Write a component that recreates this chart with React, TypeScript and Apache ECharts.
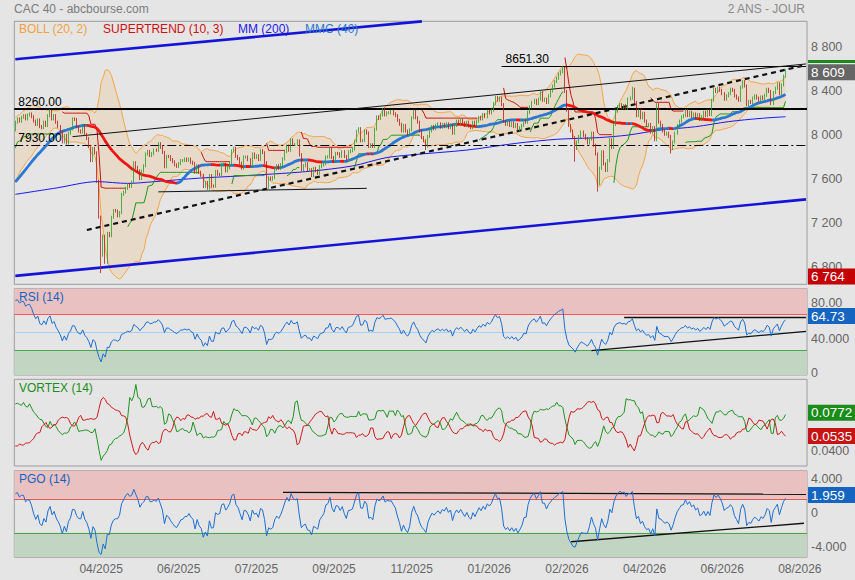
import React, { useEffect, useRef } from "react";
import * as echarts from "echarts";

// ---------- DATA ----------
// closes before the first visible session (only used to warm up the indicators)
const PRE_CLOSES = [
  7250, 7280, 7300, 7270, 7290, 7260, 7240, 7260, 7230, 7250,
  7270, 7290, 7320, 7300, 7330, 7320, 7290, 7350, 7380, 7400,
  7480, 7560, 7620, 7680, 7740, 7760, 7820, 7850, 7880, 7860,
  7900, 7930, 7910, 7960, 7990, 7970, 8010, 8040, 8020, 8070,
];

// daily closes, one per session slot
const CLOSES = [
  8140, 8170, 8150, 8185, 8200, 8170, 8205, 8215, 8190, 8150,
  8120, 8160, 8100, 8090, 8140, 8110, 8200, 8240, 8170, 8200,
  8140, 8100, 8050, 7960, 8020, 7950, 8040, 8080, 8170, 8165,
  8100, 8060, 8050, 8110, 8030, 7990, 7920, 7790, 7900, 7860,
  7600, 7275, 6927, 7100, 6863, 7126, 7105, 7273, 7335, 7330,
  7286, 7316, 7482, 7502, 7536, 7573, 7555, 7593, 7770, 7728,
  7696, 7626, 7694, 7743, 7850, 7873, 7836, 7853, 7886, 7884,
  7944, 7911, 7864, 7734, 7828, 7826, 7800, 7779, 7751, 7737,
  7763, 7790, 7790, 7804, 7792, 7804, 7775, 7765, 7684, 7742,
  7683, 7656, 7553, 7590, 7538, 7653, 7558, 7557, 7692, 7665,
  7662, 7750, 7756, 7696, 7723, 7766, 7878, 7902, 7829, 7808,
  7766, 7722, 7822, 7822, 7798, 7744, 7851, 7818, 7834, 7800,
  7880, 7862, 7772, 7546, 7632, 7621, 7635, 7711, 7743, 7719,
  7753, 7805, 7871, 7923, 7884, 7979, 7937, 7938, 7969, 7843,
  7709, 7743, 7762, 7703, 7707, 7654, 7719, 7698, 7674, 7735,
  7749, 7761, 7823, 7825, 7897, 7818, 7786, 7855, 7853, 7829,
  7871, 7827, 7795, 7870, 7880, 7896, 7966, 8056, 8081, 7971,
  7974, 8060, 8041, 7918, 7934, 7919, 8077, 8188, 8174, 8206,
  8258, 8207, 8225, 8225, 8239, 8217, 8200, 8157, 8121, 8060,
  8110, 8060, 8030, 8070, 8180, 8240, 8180, 8140, 8060, 8000,
  7970, 7920, 8010, 8060, 8100, 8080, 8110, 8125, 8095, 8120,
  8100, 8125, 8090, 8115, 8040, 8110, 8150, 8130, 8160, 8135,
  8110, 8140, 8105, 8090, 8140, 8110, 8150, 8185, 8170, 8210,
  8190, 8240, 8225, 8250, 8310, 8365, 8340, 8360, 8300, 8150,
  8120, 8140, 8110, 8135, 8100, 8120, 8070, 8090, 8110, 8150,
  8140, 8230, 8280, 8320, 8340, 8310, 8350, 8410, 8340, 8350,
  8320, 8380, 8425, 8470, 8510, 8540, 8580, 8600, 8630, 8420,
  8250, 8110, 8060, 8000, 7900, 7960, 8010, 8050, 8020, 7990,
  7950, 7985, 8040, 7930, 7850, 7580, 7720, 7870, 7760, 7700,
  7790, 7980, 7910, 8120, 8240, 8280, 8300, 8270, 8290, 8265,
  8350, 8360, 8440, 8320, 8200, 8250, 8180, 8220, 8150, 8110,
  8120, 8050, 8090, 7980, 8300, 8140, 8110, 8060, 8030, 8040,
  8010, 7900, 7960, 8040, 8110, 8150, 8190, 8200, 8245, 8200,
  8230, 8190, 8215, 8180, 8210, 8165, 8190, 8230, 8200, 8240,
  8210, 8340, 8440, 8420, 8450, 8430, 8400, 8350, 8380, 8400,
  8440, 8430, 8380, 8360, 8340, 8460, 8510, 8470, 8300, 8330,
  8320, 8360, 8380, 8360, 8340, 8370, 8355, 8385, 8440, 8420,
  8310, 8410, 8450, 8490, 8400, 8480, 8560, 8609,
];

// visible extreme wicks [slot, price]
const HIGH_WICKS: [number, number][] = [[17, 8257], [180, 8272], [268, 8651.3], [302, 8462]];
const LOW_WICKS: [number, number][] = [[42, 6764], [44, 6850], [201, 7886], [274, 7780], [285, 7507], [321, 7856]];
const WICK = 14;

// MM (200) [slot, value]
const MM200_POINTS: [number, number][] = [
  [0, 7482], [20, 7540], [40, 7598], [55, 7582], [68, 7598], [90, 7630], [110, 7650],
  [142, 7689], [165, 7741], [181, 7815], [193, 7841], [221, 7886], [245, 7947],
  [265, 7984], [286, 8000], [300, 8023], [316, 8069], [333, 8099], [349, 8145],
  [365, 8175], [377, 8190],
];

const SLOT_COUNT = 388;
const X_LABEL_SLOTS = [42, 80, 118, 156, 194, 232, 270, 308, 346, 384];
const X_LABELS = ["04/2025", "06/2025", "07/2025", "09/2025", "11/2025", "01/2026", "02/2026", "04/2026", "06/2026", "08/2026"];
// axis tick labels: [value where the text sits, text]
const PRICE_TICKS: [number, string][] = [[6823, "6 800"], [7223, "7 200"], [7623, "7 600"], [8023, "8 000"], [8423, "8 400"], [8823, "8 800"]];
const RSI_TICKS: [number, string][] = [[83, "80.00"], [42.6, "40.000"], [4.8, "0"]];
const VORTEX_TICKS: [number, string][] = [[0.0394, "0.0400"]];
const PGO_TICKS: [number, string][] = [[4.3, "4.000"], [0.3, "0"], [-3.7, "-4.000"]];
const RESISTANCE = 8260;
const SUPPORT = 7930;
const TOP_LEVEL = 8651.3;
const TOP_LEVEL_START = 238;

// price trend lines [slotA, valueA, slotB, valueB, kind]
const PRICE_TRENDS: [number, number, number, number, string][] = [
  [0, 8714, 199, 9059, "channel"],
  [0, 6739, 387, 7436, "channel"],
  [28, 8008, 387, 8671, "thin"],
  [35, 7157, 387, 8661, "dashed"],
  [70, 7505, 172, 7537, "thin"],
];
const RSI_TRENDS: [number, number, number, number][] = [[298, 66.7, 387, 66.7], [282, 29.6, 387, 51.1]];
const PGO_TRENDS: [number, number, number, number][] = [[131, 2.76, 387, 2.53], [272, -3.05, 386, -0.88]];

const RSI_BADGE = 64.73;
const VIP_BADGE = 0.0772;
const VIM_BADGE = 0.0535;
const PGO_BADGE = 1.959;

// ---------- INDICATORS ----------
const ALL = PRE_CLOSES.concat(CLOSES);
const OFF = PRE_CLOSES.length;
const N = CLOSES.length;
const hiMap = new Map(HIGH_WICKS);
const loMap = new Map(LOW_WICKS);
const OPEN_ALL = ALL.map((c, k) => (k === 0 ? c : ALL[k - 1]));
const HIGH_ALL = ALL.map((c, k) => {
  const b = Math.max(OPEN_ALL[k], c) + WICK;
  const o = hiMap.get(k - OFF);
  return o !== undefined ? Math.max(b, o) : b;
});
const LOW_ALL = ALL.map((c, k) => {
  const b = Math.min(OPEN_ALL[k], c) - WICK;
  const o = loMap.get(k - OFF);
  return o !== undefined ? Math.min(b, o) : b;
});
const TR_ALL = ALL.map((c, k) =>
  k === 0
    ? HIGH_ALL[k] - LOW_ALL[k]
    : Math.max(HIGH_ALL[k] - LOW_ALL[k], Math.abs(HIGH_ALL[k] - ALL[k - 1]), Math.abs(LOW_ALL[k] - ALL[k - 1]))
);

function sma(a: number[], p: number, k: number) {
  let s = 0;
  for (let j = k - p + 1; j <= k; j++) s += a[j];
  return s / p;
}

const BB_UP: number[] = [];
const BB_LO: number[] = [];
const MMC: number[] = [];
for (let s = 0; s < N; s++) {
  const k = s + OFF;
  const m = sma(ALL, 20, k);
  let v = 0;
  for (let j = k - 19; j <= k; j++) v += (ALL[j] - m) * (ALL[j] - m);
  const sd = Math.sqrt(v / 20);
  BB_UP.push(m + 2 * sd);
  BB_LO.push(m - 2 * sd);
  MMC.push(sma(ALL, 40, k));
}

// RSI 14 (Wilder)
const RSI: number[] = [];
{
  const p = 14;
  let ag = 0, al = 0;
  for (let k = 1; k <= p; k++) {
    const d = ALL[k] - ALL[k - 1];
    ag += Math.max(d, 0);
    al += Math.max(-d, 0);
  }
  ag /= p; al /= p;
  for (let k = p + 1; k < ALL.length; k++) {
    const d = ALL[k] - ALL[k - 1];
    ag = (ag * (p - 1) + Math.max(d, 0)) / p;
    al = (al * (p - 1) + Math.max(-d, 0)) / p;
    if (k >= OFF) RSI.push(100 - 100 / (1 + ag / (al || 1e-9)));
  }
}

// SuperTrend (10, 3)
const ST_UP: (number | null)[] = [];
const ST_DN: (number | null)[] = [];
{
  const p = 10, mult = 3;
  let atr = 0;
  for (let k = 1; k <= p; k++) atr += TR_ALL[k];
  atr /= p;
  let fu = 0, fl = 0, trend = 1;
  for (let k = p; k < ALL.length; k++) {
    if (k > p) atr = (atr * (p - 1) + TR_ALL[k]) / p;
    const hl2 = (HIGH_ALL[k] + LOW_ALL[k]) / 2;
    const bu = hl2 + mult * atr;
    const bl = hl2 - mult * atr;
    if (k === p) { fu = bu; fl = bl; }
    else {
      const nfu = bu < fu || ALL[k - 1] > fu ? bu : fu;
      const nfl = bl > fl || ALL[k - 1] < fl ? bl : fl;
      fu = nfu; fl = nfl;
      if (trend === 1 && ALL[k] < fl) trend = -1;
      else if (trend === -1 && ALL[k] > fu) trend = 1;
    }
    if (k >= OFF) {
      ST_UP.push(trend === 1 ? fl : null);
      ST_DN.push(trend === -1 ? fu : null);
    }
  }
}

// Vortex 14 (shown divided by the period, as on the source)
const VIP: number[] = [];
const VIM: number[] = [];
{
  const p = 14;
  for (let s = 0; s < N; s++) {
    const k = s + OFF;
    let vp = 0, vm = 0, tr = 0;
    for (let j = k - p + 1; j <= k; j++) {
      vp += Math.abs(HIGH_ALL[j] - LOW_ALL[j - 1]);
      vm += Math.abs(LOW_ALL[j] - HIGH_ALL[j - 1]);
      tr += TR_ALL[j];
    }
    VIP.push(vp / tr / p);
    VIM.push(vm / tr / p);
  }
}

// PGO 14
const PGO: number[] = [];
{
  const p = 14;
  let ema = 0;
  for (let k = 1; k <= p; k++) ema += TR_ALL[k];
  ema /= p;
  for (let k = p + 1; k < ALL.length; k++) {
    ema += (TR_ALL[k] - ema) * (2 / (p + 1));
    if (k >= OFF) PGO.push((ALL[k] - sma(ALL, p, k)) / ema);
  }
}

// ---------- CHART ----------
const FONT = "'Liberation Sans', Arial, sans-serif";
const SLOTS = Array.from({ length: SLOT_COUNT }, (_, i) => String(i));
const thousands = (v: number) => String(Math.round(v)).replace(/\B(?=(\d{3})+(?!\d))/g, " ");
const BLUE_MMC = "#2a78d2";
const RED_MMC = "#ee1515";

const GRIDS = [
  { left: 14.3, top: 21.3, width: 792.7, height: 263 },
  { left: 14.3, top: 288.5, width: 792.7, height: 86.5 },
  { left: 14.3, top: 379.3, width: 792.7, height: 86.7 },
  { left: 14.3, top: 470.7, width: 792.7, height: 86.6 },
];

function badge(value: number, text: string, bg: string, dy: number) {
  return {
    yAxis: value,
    lineStyle: { color: "rgba(0,0,0,0)", width: 0.01 },
    label: {
      show: true,
      position: "end",
      formatter: text,
      backgroundColor: bg,
      color: "#ffffff",
      fontSize: 13.5,
      fontFamily: FONT,
      lineHeight: 14,
      padding: [1, 3, 1, 3],
      width: 42,
      align: "left",
      distance: 1,
      offset: [0, dy],
    },
  };
}

function seg(a: number, va: number, b: number, vb: number, style: any) {
  return [
    { coord: [SLOTS[a], va], lineStyle: style },
    { coord: [SLOTS[b], vb] },
  ];
}

function buildOption() {
  const OPEN = OPEN_ALL.slice(OFF);
  const HIGH = HIGH_ALL.slice(OFF);
  const LOW = LOW_ALL.slice(OFF);
  const candles = CLOSES.map((c, s) => [OPEN[s], c, LOW[s], HIGH[s]]);
  const minLow = Math.min(...LOW);
  const lastClose = CLOSES[N - 1];

  const mm200: (number | null)[] = new Array(SLOT_COUNT).fill(null);
  MM200_POINTS.forEach(([s, v]) => (mm200[s] = v));

  // MMC colour pieces: blue when rising, red when falling
  const pieces: any[] = [];
  let runStart = 1;
  let runUp = MMC[1] >= MMC[0];
  for (let s = 2; s < N; s++) {
    const up = MMC[s] >= MMC[s - 1];
    if (up !== runUp) {
      pieces.push({ gt: pieces.length === 0 ? -1 : runStart - 1, lte: s - 1, color: runUp ? BLUE_MMC : RED_MMC });
      runStart = s;
      runUp = up;
    }
  }
  pieces.push({ gt: pieces.length === 0 ? -1 : runStart - 1, lte: SLOT_COUNT, color: runUp ? BLUE_MMC : RED_MMC });

  const trendStyle = (kind: string) =>
    kind === "channel"
      ? { color: "#1414d8", width: 2.6, type: "solid" }
      : kind === "dashed"
      ? { color: "#111111", width: 2.2, type: [5, 4] }
      : { color: "#111111", width: 1, type: "solid" };

  const xAxes = GRIDS.map((_, g) => ({
    type: "category",
    gridIndex: g,
    data: SLOTS,
    boundaryGap: true,
    axisLine: { show: false },
    axisTick: { show: false },
    splitLine: { show: false },
    axisLabel:
      g === 3
        ? {
            show: true,
            interval: (idx: number) => X_LABEL_SLOTS.includes(idx),
            formatter: (_v: string, idx: number) => X_LABELS[X_LABEL_SLOTS.indexOf(idx)] ?? "",
            color: "#666666",
            fontSize: 12,
            fontFamily: FONT,
            margin: 6,
          }
        : { show: false },
  }));

  const yBase = {
    type: "value",
    position: "right",
    axisLine: { show: false },
    axisTick: { show: false },
    splitLine: { show: false },
  };
  const lbl = (ticks: [number, string][]) => ({
    customValues: ticks.map((t) => t[0]),
    formatter: (v: number) => {
      const t = ticks.find((x) => Math.abs(x[0] - v) < 1e-6);
      return t ? t[1] : "";
    },
    color: "#666666",
    fontSize: 12.5,
    fontFamily: FONT,
    margin: 4,
  });

  const yAxes = [
    { ...yBase, gridIndex: 0, min: 6662, max: 9060, axisLabel: lbl(PRICE_TICKS) },
    { ...yBase, gridIndex: 1, min: 2.6, max: 98.7, axisLabel: lbl(RSI_TICKS) },
    { ...yBase, gridIndex: 2, min: 0.0207, max: 0.127, axisLabel: lbl(VORTEX_TICKS) },
    { ...yBase, gridIndex: 3, min: -4.88, max: 5.3, axisLabel: lbl(PGO_TICKS) },
  ];

  const bollDiff = BB_UP.map((u, s) => u - BB_LO[s]);

  const series: any[] = [
    { type: "line", name: "bbBase", data: BB_LO, stack: "boll", symbol: "none", lineStyle: { opacity: 0 }, silent: true, z: 1 },
    { type: "line", name: "bbFill", data: bollDiff, stack: "boll", symbol: "none", lineStyle: { opacity: 0 }, areaStyle: { color: "rgba(240,196,140,0.45)" }, silent: true, z: 1 },
    { type: "line", name: "bbUp", data: BB_UP, symbol: "none", lineStyle: { color: "#f5a447", width: 1 }, z: 2 },
    { type: "line", name: "bbLo", data: BB_LO, symbol: "none", lineStyle: { color: "#f5a447", width: 1 }, z: 2 },
    { type: "line", name: "mm200", data: mm200, connectNulls: true, smooth: 0.3, symbol: "none", lineStyle: { color: "#1818ee", width: 1 }, z: 3 },
    { type: "line", name: "stUp", data: ST_UP, symbol: "none", lineStyle: { color: "#17991a", width: 1 }, z: 3 },
    { type: "line", name: "stDn", data: ST_DN, symbol: "none", lineStyle: { color: "#c81212", width: 1 }, z: 3 },
    { type: "line", name: "mmc", data: MMC, symbol: "none", lineStyle: { width: 2.8 }, z: 4 },
    {
      type: "candlestick",
      name: "price",
      data: candles,
      barWidth: 1.3,
      clip: false,
      z: 5,
      itemStyle: { color: "#2fd22f", color0: "#e8231d", borderColor: "#259f25", borderColor0: "#b81a16", borderWidth: 0.8 },
      markLine: {
        symbol: "none",
        silent: true,
        label: { show: false },
        data: [
          {
            yAxis: RESISTANCE,
            lineStyle: { color: "#000000", width: 2, type: "solid" },
            label: { show: true, position: "insideStartTop", formatter: RESISTANCE.toFixed(2), color: "#000", fontSize: 12, fontFamily: FONT, distance: [4, 1] },
          },
          {
            yAxis: SUPPORT,
            lineStyle: { color: "#000000", width: 1.2, type: [9, 3, 2, 3] },
            label: { show: true, position: "insideStartTop", formatter: SUPPORT.toFixed(2), color: "#000", fontSize: 12, fontFamily: FONT, distance: [4, 1] },
          },
          [
            {
              coord: [SLOTS[TOP_LEVEL_START], TOP_LEVEL],
              lineStyle: { color: "#000000", width: 1, type: "solid" },
              label: { show: true, position: "insideStartTop", formatter: TOP_LEVEL.toFixed(2), color: "#000", fontSize: 12, fontFamily: FONT, distance: [4, 1] },
            },
            { coord: [SLOTS[SLOT_COUNT - 1], TOP_LEVEL] },
          ],
          ...PRICE_TRENDS.map(([a, va, b, vb, kind]) => seg(a, va, b, vb, trendStyle(kind))),
          badge(lastClose, thousands(lastClose), "#666666", 1.5),
          badge(minLow, thousands(minLow), "#c40000", 3.5),
        ],
      },
    },
    {
      type: "line",
      name: "rsi",
      xAxisIndex: 1,
      yAxisIndex: 1,
      data: RSI,
      symbol: "none",
      clip: false,
      lineStyle: { color: "#1d6fd0", width: 1 },
      z: 5,
      markArea: {
        silent: true,
        data: [
          [{ yAxis: 70, itemStyle: { color: "#e9c1c1" } }, { yAxis: 98.7 }],
          [{ yAxis: 2.6, itemStyle: { color: "#c2d5c2" } }, { yAxis: 30 }],
        ],
      },
      markLine: {
        symbol: "none",
        silent: true,
        label: { show: false },
        data: [
          { yAxis: 70, lineStyle: { color: "#ff5555", width: 1, type: "solid" } },
          { yAxis: 50, lineStyle: { color: "#a6d0f6", width: 1, type: "solid" } },
          { yAxis: 30, lineStyle: { color: "#4aa64a", width: 1, type: "solid" } },
          ...RSI_TRENDS.map(([a, va, b, vb]) => seg(a, va, b, vb, { color: "#111", width: 1.3, type: "solid" })),
          badge(RSI_BADGE, RSI_BADGE.toFixed(2), "#1565c0", -3),
        ],
      },
    },
    {
      type: "line",
      name: "vip",
      xAxisIndex: 2,
      yAxisIndex: 2,
      data: VIP,
      symbol: "none",
      clip: false,
      lineStyle: { color: "#1e941e", width: 1 },
      z: 5,
      markLine: { symbol: "none", silent: true, label: { show: false }, data: [badge(VIP_BADGE, VIP_BADGE.toFixed(4), "#1a8c1a", -5)] },
    },
    {
      type: "line",
      name: "vim",
      xAxisIndex: 2,
      yAxisIndex: 2,
      data: VIM,
      symbol: "none",
      clip: false,
      lineStyle: { color: "#d01818", width: 1 },
      z: 5,
      markLine: { symbol: "none", silent: true, label: { show: false }, data: [badge(VIM_BADGE, VIM_BADGE.toFixed(4), "#c41414", -6)] },
    },
    {
      type: "line",
      name: "pgo",
      xAxisIndex: 3,
      yAxisIndex: 3,
      data: PGO,
      symbol: "none",
      clip: false,
      lineStyle: { color: "#1d6fd0", width: 1 },
      z: 5,
      markArea: {
        silent: true,
        data: [
          [{ yAxis: 2, itemStyle: { color: "#e9c1c1" } }, { yAxis: 5.3 }],
          [{ yAxis: -4.88, itemStyle: { color: "#c2d5c2" } }, { yAxis: -2 }],
        ],
      },
      markLine: {
        symbol: "none",
        silent: true,
        label: { show: false },
        data: [
          { yAxis: 2, lineStyle: { color: "#e85555", width: 1, type: "solid" } },
          { yAxis: -2, lineStyle: { color: "#4aa64a", width: 1, type: "solid" } },
          ...PGO_TRENDS.map(([a, va, b, vb]) => seg(a, va, b, vb, { color: "#111", width: 1.3, type: "solid" })),
          badge(PGO_BADGE, PGO_BADGE.toFixed(3), "#1565c0", -4),
        ],
      },
    },
  ];

  const mmcIndex = series.findIndex((s) => s.name === "mmc");

  const txt = (text: string, x: number, y: number, fill: string, align = "left") => ({
    type: "text",
    x,
    y,
    z: 100,
    style: { text, fill, font: `12px ${FONT}`, verticalAlign: "middle", align },
  });

  return {
    animation: false,
    backgroundColor: "#e5e5e5",
    textStyle: { fontFamily: FONT },
    grid: GRIDS.map((g) => ({ ...g, show: true, borderColor: "#9c9c9c", borderWidth: 1, backgroundColor: "transparent" })),
    xAxis: xAxes,
    yAxis: yAxes,
    visualMap: [
      { type: "piecewise", show: false, dimension: 0, seriesIndex: mmcIndex, pieces },
    ],
    series,
    graphic: [
      txt("CAC 40 - abcbourse.com", 14, 9, "#7c7c7c"),
      txt("2 ANS - JOUR", 805, 9, "#8a8a8a", "right"),
      txt("BOLL (20, 2)", 19, 29, "#f3a23a"),
      txt("SUPERTREND (10, 3)", 103, 29, "#cc1010"),
      txt("MM (200)", 238, 29, "#1a1ae8"),
      txt("MMC (40)", 305, 29, "#2a7ad0"),
      txt("RSI (14)", 19, 297, "#1565c0"),
      txt("VORTEX (14)", 19, 388, "#178f17"),
      txt("PGO (14)", 19, 479, "#1565c0"),
      { type: "rect", x: 808, y: 60, z: 100, shape: { width: 47, height: 3 }, style: { fill: "#1a8a1a" } },
    ],
  };
}

export default function App() {
  const ref = useRef<HTMLDivElement>(null);
  useEffect(() => {
    if (!ref.current) return;
    const chart = echarts.init(ref.current, undefined, { renderer: "svg" });
    chart.setOption(buildOption() as any);
    return () => chart.dispose();
  }, []);
  return <div ref={ref} style={{ position: "fixed", left: 0, top: 0, width: 855, height: 580 }} />;
}
